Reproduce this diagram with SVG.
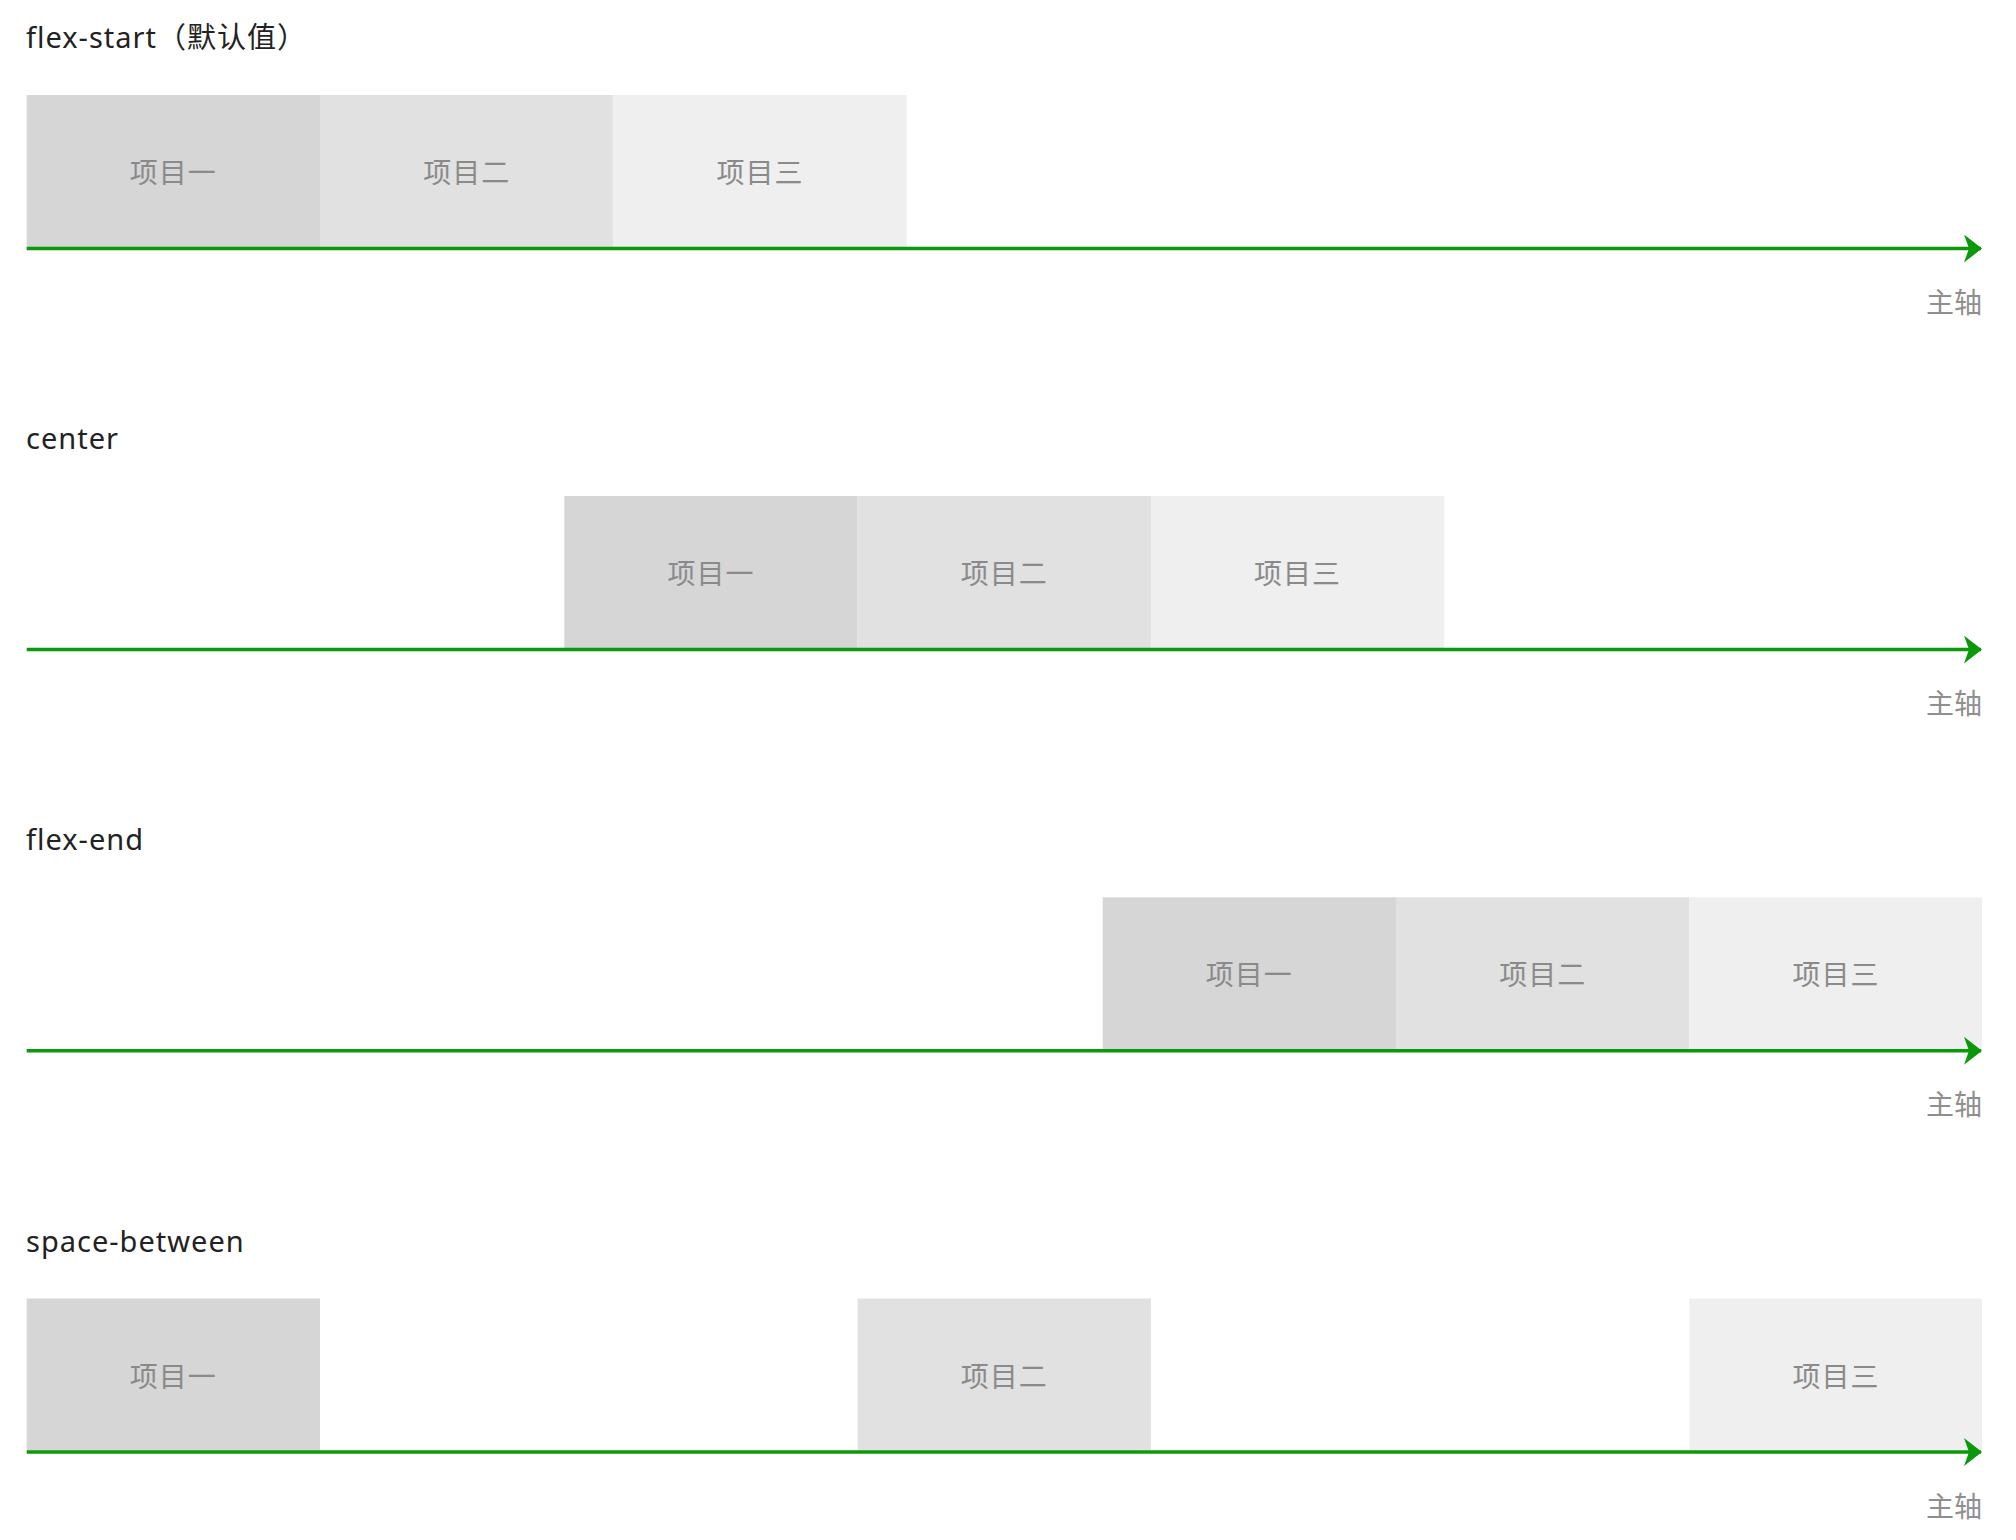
<svg xmlns="http://www.w3.org/2000/svg" width="2016" height="1540" viewBox="0 0 2016 1540">
<defs>
<style>
.bg{fill:#ffffff}
.title{font-family:"Noto Sans","Noto Sans CJK SC",sans-serif;font-size:29px;fill:#222222;letter-spacing:1px}
.b1{fill:#d6d6d6}
.b2{fill:#e1e1e1}
.b3{fill:#efefef}
.lbl{font-family:"Noto Sans CJK SC",sans-serif;font-size:28px;fill:#8a8a8a;text-anchor:middle;letter-spacing:1px}
.axis{stroke:#0b990b;stroke-width:3.5;fill:none}
.axlbl{font-family:"Noto Sans CJK SC",sans-serif;font-size:28px;fill:#8f8f8f;text-anchor:end}
</style>
<marker id="arr" viewBox="0 0 18 28" refX="17" refY="14" markerWidth="18" markerHeight="28" markerUnits="userSpaceOnUse" orient="auto">
<path d="M0,0 L18,14 L0,28 L5,14 Z" fill="#0b990b"/>
</marker>
</defs>
<rect class="bg" x="0" y="0" width="2016" height="1540"/>

<!-- Row 1: flex-start -->
<g id="row-flex-start">
<text id="title-flex-start" class="title" x="26" y="48">flex-start（默认值）</text>
<g id="fs-item1"><rect class="b1" x="26.7" y="95" width="293.3" height="152"/><text class="lbl" x="173.3" y="183">项目一</text></g>
<g id="fs-item2"><rect class="b2" x="320" y="95" width="293.3" height="152"/><text class="lbl" x="466.7" y="183">项目二</text></g>
<g id="fs-item3"><rect class="b3" x="613.3" y="95" width="293.4" height="152"/><text class="lbl" x="760" y="183">项目三</text></g>
<text id="fs-axis-label" class="axlbl" x="1982" y="313">主轴</text>
</g>

<!-- Row 2: center -->
<g id="row-center">
<text id="title-center" class="title" x="26" y="449">center</text>
<g id="c-item1"><rect class="b1" x="564.3" y="496" width="293.3" height="152"/><text class="lbl" x="711" y="584">项目一</text></g>
<g id="c-item2"><rect class="b2" x="857.6" y="496" width="293.3" height="152"/><text class="lbl" x="1004.3" y="584">项目二</text></g>
<g id="c-item3"><rect class="b3" x="1150.9" y="496" width="293.4" height="152"/><text class="lbl" x="1297.6" y="584">项目三</text></g>
<text id="c-axis-label" class="axlbl" x="1982" y="714">主轴</text>
</g>

<!-- Row 3: flex-end -->
<g id="row-flex-end">
<text id="title-flex-end" class="title" x="26" y="850">flex-end</text>
<g id="fe-item1"><rect class="b1" x="1102.7" y="897.3" width="293.3" height="152"/><text class="lbl" x="1249.3" y="985.3">项目一</text></g>
<g id="fe-item2"><rect class="b2" x="1396" y="897.3" width="293.3" height="152"/><text class="lbl" x="1542.7" y="985.3">项目二</text></g>
<g id="fe-item3"><rect class="b3" x="1689.3" y="897.3" width="292.7" height="152"/><text class="lbl" x="1836" y="985.3">项目三</text></g>
<text id="fe-axis-label" class="axlbl" x="1982" y="1115.3">主轴</text>
</g>

<!-- Row 4: space-between -->
<g id="row-space-between">
<text id="title-space-between" class="title" x="26" y="1251.5">space-between</text>
<g id="sb-item1"><rect class="b1" x="26.7" y="1298.5" width="293.3" height="152"/><text class="lbl" x="173.3" y="1386.5">项目一</text></g>
<g id="sb-item2"><rect class="b2" x="857.6" y="1298.5" width="293.3" height="152"/><text class="lbl" x="1004.3" y="1386.5">项目二</text></g>
<g id="sb-item3"><rect class="b3" x="1689.3" y="1298.5" width="292.7" height="152"/><text class="lbl" x="1836" y="1386.5">项目三</text></g>
<text id="sb-axis-label" class="axlbl" x="1982" y="1516.5">主轴</text>
</g>

<!-- Connectors: main axes -->
<g id="connectors">
<line id="axis1" class="axis" x1="26.7" y1="248.5" x2="1981" y2="248.5" marker-end="url(#arr)"/>
<line id="axis2" class="axis" x1="26.7" y1="649.6" x2="1981" y2="649.6" marker-end="url(#arr)"/>
<line id="axis3" class="axis" x1="26.7" y1="1050.8" x2="1981" y2="1050.8" marker-end="url(#arr)"/>
<line id="axis4" class="axis" x1="26.7" y1="1452" x2="1981" y2="1452" marker-end="url(#arr)"/>
</g>
</svg>
